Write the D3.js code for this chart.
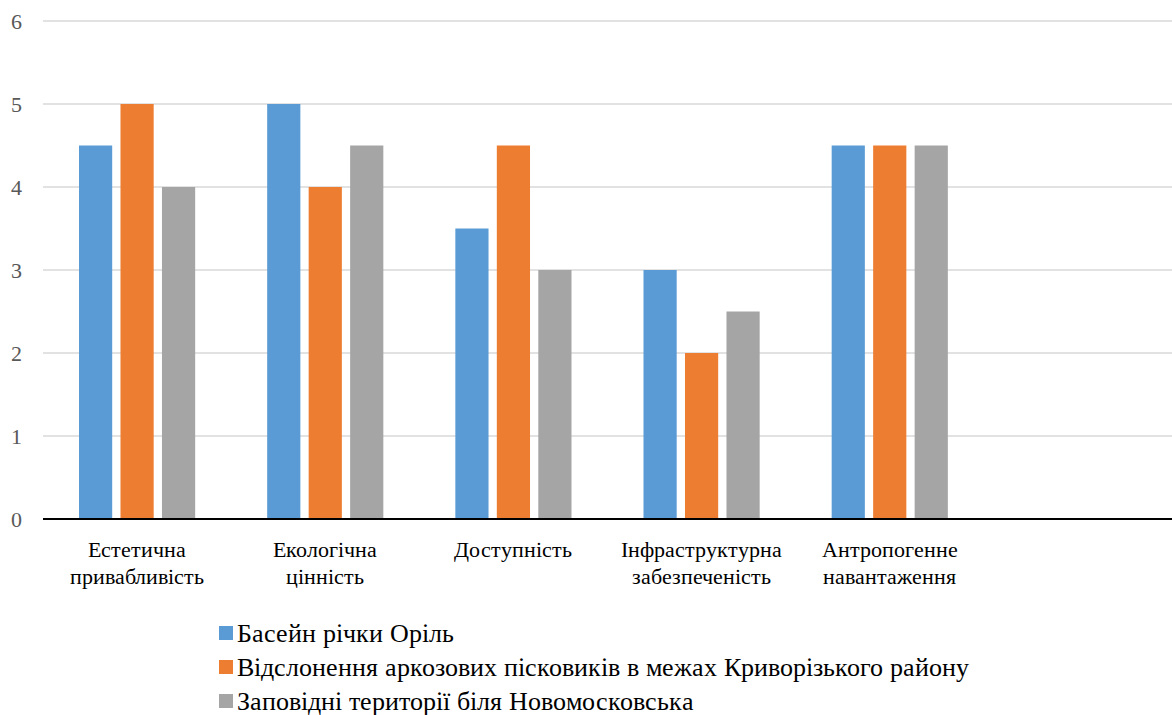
<!DOCTYPE html>
<html>
<head>
<meta charset="utf-8">
<script src="https://cdn.jsdelivr.net/npm/d3@7"></script>
<style>
  @font-face { font-family: "ChartSerif"; src: local("Liberation Serif"), local("LiberationSerif-Regular"), local("Times New Roman"); }
  body { margin: 0; background: #fff; }
</style>
</head>
<body>
<script>
// categories (last slot is empty in the original chart)
var categories = [
  ["Естетична", "привабливість"],
  ["Екологічна", "цінність"],
  ["Доступність"],
  ["Інфраструктурна", "забезпеченість"],
  ["Антропогенне", "навантаження"],
  [""]
];
var seriesNames = [
  "Басейн річки Оріль",
  "Відслонення аркозових пісковиків в межах Криворізького району",
  "Заповідні території біля Новомосковська"
];
var seriesColors = ["#5b9bd5", "#ed7d31", "#a5a5a5"];
var oril = [4.5, 5, 3.5, 3, 4.5];
var vidslonennia = [5, 4, 4.5, 2, 4.5];
var zapovidni = [4, 4.5, 3, 2.5, 4.5];
var yTicks = [0, 1, 2, 3, 4, 5, 6];

var series = [oril, vidslonennia, zapovidni];
var FONT = "ChartSerif, Tinos, FreeSerif, serif";

var W = 1172, H = 715;
var margin = {top: 21, right: 0, bottom: 196, left: 43};
var width = W - margin.left - margin.right,
    height = H - margin.top - margin.bottom;

var svg = d3.select("body").append("svg")
    .attr("width", W)
    .attr("height", H);

var g = svg.append("g")
    .attr("transform", "translate(" + margin.left + "," + margin.top + ")");

var x0 = d3.scaleBand()
    .domain(d3.range(categories.length))
    .range([0, width])
    .paddingInner(0)
    .paddingOuter(0);

var inner = d3.scaleBand()
    .domain(d3.range(series.length))
    .range([36, x0.bandwidth() - 36])
    .paddingInner(0.2);

var y = d3.scaleLinear().domain([0, 6]).range([height, 0]);

// gridlines
g.selectAll(".grid")
    .data(yTicks.filter(function(d) { return d > 0; }))
  .enter().append("line")
    .attr("x1", 0).attr("x2", width)
    .attr("y1", function(d) { return y(d); })
    .attr("y2", function(d) { return y(d); })
    .attr("stroke", "#d9d9d9")
    .attr("stroke-width", 1.5);

// y tick labels
g.selectAll(".ytick")
    .data(yTicks)
  .enter().append("text")
    .attr("x", -21)
    .attr("y", function(d) { return y(d); })
    .attr("dy", "0.35em")
    .attr("text-anchor", "end")
    .attr("fill", "#595959")
    .style("font-family", FONT)
    .style("font-size", "22px")
    .text(function(d) { return d; });

// bars
var groups = g.selectAll(".grp")
    .data(categories.slice(0, 5))
  .enter().append("g")
    .attr("transform", function(d, i) { return "translate(" + x0(i) + ",0)"; });

groups.selectAll("rect")
    .data(function(d, i) { return series.map(function(s, k) { return {k: k, v: s[i]}; }); })
  .enter().append("rect")
    .attr("x", function(d) { return inner(d.k); })
    .attr("width", inner.bandwidth())
    .attr("y", function(d) { return y(d.v); })
    .attr("height", function(d) { return height - y(d.v); })
    .attr("fill", function(d) { return seriesColors[d.k]; });

// x axis line
g.append("line")
    .attr("x1", 0).attr("x2", width)
    .attr("y1", height).attr("y2", height)
    .attr("stroke", "#000")
    .attr("stroke-width", 2);

// category labels
var labels = g.selectAll(".xlab")
    .data(categories)
  .enter().append("text")
    .attr("text-anchor", "middle")
    .attr("fill", "#000")
    .style("font-family", FONT)
    .style("font-size", "22px")
    .attr("transform", function(d, i) {
      return "translate(" + (x0(i) + x0.bandwidth() / 2) + "," + (height + 38) + ")";
    });

labels.selectAll("tspan")
    .data(function(d) { return d; })
  .enter().append("tspan")
    .attr("x", 0)
    .attr("dy", function(d, i) { return i === 0 ? 0 : 27; })
    .text(function(d) { return d; });

// legend
var legend = svg.append("g")
    .attr("transform", "translate(219,633)");

var li = legend.selectAll(".li")
    .data(seriesNames)
  .enter().append("g")
    .attr("transform", function(d, i) { return "translate(0," + i * 34 + ")"; });

li.append("rect")
    .attr("x", 0).attr("y", -7)
    .attr("width", 14).attr("height", 14)
    .attr("fill", function(d, i) { return seriesColors[i]; });

li.append("text")
    .attr("x", 18)
    .attr("dy", "0.35em")
    .attr("fill", "#000")
    .style("font-family", FONT)
    .style("font-size", "26px")
    .text(function(d) { return d; });
</script>
</body>
</html>
